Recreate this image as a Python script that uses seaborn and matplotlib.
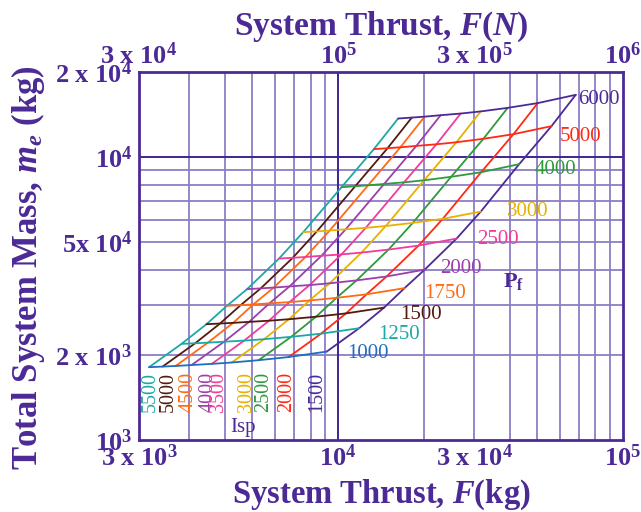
import matplotlib
matplotlib.use("Agg")
import matplotlib.pyplot as plt
from matplotlib.ticker import NullFormatter, NullLocator
import pandas as pd
import seaborn as sns

# Carpet nodes: one row per power level Pf, one column per specific impulse
isp_values = [5500, 5000, 4500, 4000, 3500, 3000, 2500, 2000, 1500]
pf_values = [1000, 1250, 1500, 1750, 2000, 2500, 3000, 4000, 5000, 6000]

thrust_kg = [
    [2170, 2420, 2690, 3060, 3600, 4230, 5260, 6710, 9120],
    [2820, 3150, 3490, 3980, 4680, 5500, 6840, 8710, 11850],
    [3450, 3850, 4280, 4870, 5720, 6720, 8360, 10660, 14500],
    [4070, 4550, 5040, 5740, 6750, 7930, 9870, 12580, 17100],
    [4790, 5350, 5940, 6750, 7940, 9340, 11610, 14800, 20130],
    [6200, 6930, 7680, 8740, 10280, 12080, 15030, 19160, 26050],
    [7540, 8420, 9340, 10630, 12500, 14700, 18280, 23300, 31680],
    [10280, 11480, 12740, 14500, 17040, 20040, 24920, 31770, 43200],
    [13350, 14910, 16540, 18820, 22130, 26020, 32360, 41250, 56100],
    [16240, 18140, 20120, 22900, 26930, 31650, 39370, 50180, 68240],
]
mass_kg = [
    [1809, 1818, 1827, 1841, 1858, 1879, 1915, 1965, 2054],
    [2187, 2198, 2209, 2226, 2246, 2272, 2316, 2376, 2484],
    [2567, 2581, 2595, 2616, 2641, 2673, 2728, 2803, 2938],
    [2981, 2998, 3016, 3042, 3073, 3113, 3181, 3274, 3442],
    [3414, 3436, 3458, 3491, 3530, 3581, 3667, 3786, 4002],
    [4379, 4407, 4436, 4480, 4531, 4598, 4712, 4868, 5154],
    [5429, 5465, 5502, 5558, 5624, 5709, 5855, 6053, 6420],
    [7832, 7891, 7950, 8040, 8147, 8285, 8520, 8845, 9444],
    [10674, 10754, 10835, 10958, 11103, 11291, 11612, 12054, 12871],
    [13694, 13800, 13906, 14068, 14261, 14510, 14936, 15525, 16608],
]

x_tick_values = [2000, 1e4, 3e4, 1e5]
x_tick_labels_kg = ["3 x 10$^3$", "10$^4$", "3 x 10$^4$", "10$^5$"]
x_tick_labels_n = ["3 x 10$^4$", "10$^5$", "3 x 10$^5$", "10$^6$"]
y_tick_values = [1000, 2000, 5000, 10000, 20000]
y_tick_labels = ["10$^3$", "2 x 10$^3$", "5x 10$^4$", "10$^4$", "2 x 10$^4$"]

# Colours
INK = "#4B2A96"
GRID = "#8E7DC6"
GRID_MAJOR = "#3E2490"
isp_colors = {5500: "#1AA9A6", 5000: "#551A0E", 4500: "#FF6A14", 4000: "#9C3FAA",
              3500: "#F03C9C", 3000: "#E8B000", 2500: "#2E9A3A", 2000: "#FF2A12",
              1500: "#4B2A96"}
pf_colors = {1000: "#1F6DBF", 1250: "#1AA9A6", 1500: "#551A0E", 1750: "#FF6A14",
             2000: "#9C3FAA", 2500: "#F03C9C", 3000: "#E8B000", 4000: "#2E9A3A",
             5000: "#FF2A12", 6000: "#4B2A96"}

rows = []
for i, pf in enumerate(pf_values):
    for j, isp in enumerate(isp_values):
        rows.append({"Pf": pf, "Isp": isp, "F": thrust_kg[i][j], "M": mass_kg[i][j],
                     "pf_order": i, "isp_order": j})
df = pd.DataFrame(rows)

sns.set_theme(style="white")
plt.rcParams["font.family"] = ["Liberation Serif", "DejaVu Serif"]
plt.rcParams["mathtext.fontset"] = "custom"
plt.rcParams["mathtext.rm"] = "Liberation Serif:bold"
plt.rcParams["mathtext.bf"] = "Liberation Serif:bold"
plt.rcParams["mathtext.it"] = "Liberation Serif:italic:bold"

fig = plt.figure(figsize=(6.41, 5.12), dpi=100)
ax = fig.add_axes([139 / 641, 72 / 512, 484 / 641, 368 / 512])
ax.set_xscale("log")
ax.set_yscale("log")
ax.set_xlim(2000, 1e5)
ax.set_ylim(1000, 2e4)

# Grid lines
for v in [3000, 4000, 5000, 6000, 7000, 8000, 9000,
          20000, 30000, 40000, 50000, 60000, 70000, 80000, 90000]:
    ax.axvline(v, color=GRID, lw=1.3, zorder=0)
for v in [2000, 3000, 4000, 5000, 6000, 7000, 8000, 9000]:
    ax.axhline(v, color=GRID, lw=1.3, zorder=0)
ax.axvline(1e4, color=GRID_MAJOR, lw=1.4, zorder=0)
ax.axhline(1e4, color=GRID_MAJOR, lw=1.4, zorder=0)

# Constant-Isp curves
sns.lineplot(data=df.sort_values(["Isp", "pf_order"]), x="F", y="M", hue="Isp",
             palette=isp_colors, sort=False, estimator=None, legend=False,
             lw=1.3, ax=ax, zorder=3)
# Constant-power curves
sns.lineplot(data=df.sort_values(["Pf", "isp_order"]), x="F", y="M", hue="Pf",
             palette=pf_colors, sort=False, estimator=None, legend=False,
             lw=1.3, ax=ax, zorder=3)

# Axes styling
for s in ax.spines.values():
    s.set_color(INK)
    s.set_linewidth(2)
ax.set_xticks(x_tick_values)
ax.set_xticklabels(x_tick_labels_kg, fontweight="bold")
ax.set_yticks(y_tick_values)
ax.set_yticklabels(y_tick_labels, fontweight="bold")
for axis in (ax.xaxis, ax.yaxis):
    axis.set_minor_locator(NullLocator())
    axis.set_minor_formatter(NullFormatter())
ax.tick_params(length=0, labelsize=19, labelcolor=INK)
ax.tick_params(axis="y", pad=5)
ax.tick_params(axis="x", pad=3)
ax.set_xlabel("System Thrust, $F$(kg)", fontsize=23.5, fontweight="bold", color=INK)
ax.xaxis.set_label_coords(0.5, -0.103)
ax.set_ylabel("Total System Mass, $m_e$ (kg)", fontsize=25, fontweight="bold", color=INK)
ax.yaxis.set_label_coords(-0.19, 0.47)

top = ax.twiny()
top.set_xscale("log")
top.set_xlim(ax.get_xlim())
top.set_xticks(x_tick_values)
top.set_xticklabels(x_tick_labels_n, fontweight="bold")
top.xaxis.set_minor_locator(NullLocator())
top.xaxis.set_minor_formatter(NullFormatter())
top.tick_params(length=0, labelsize=19, labelcolor=INK, pad=2)
top.set_xlabel("System Thrust, $F$($N$)", fontsize=24, fontweight="bold", color=INK)
top.xaxis.set_label_coords(0.5, 1.10)
for s in top.spines.values():
    s.set_visible(False)

# Isp labels along the bottom
isp_label_x = [0.0227, 0.0605, 0.1019, 0.1432, 0.1638, 0.2225, 0.2568, 0.3052, 0.3671]
for isp, xf in zip(isp_values, isp_label_x):
    ax.text(xf, 0.1304, str(isp), transform=ax.transAxes, rotation=90,
            ha="center", va="center", fontsize=14.5, color=isp_colors[isp])
ax.text(0.2149, 0.0353, "Isp", transform=ax.transAxes, ha="center", va="center",
        fontsize=15, color=INK)

# Power labels at the right ends
pf_label_pos = {6000: (0.907, 0.924), 5000: (0.870, 0.826), 4000: (0.818, 0.734),
                3000: (0.760, 0.622), 2500: (0.698, 0.546), 2000: (0.622, 0.465),
                1750: (0.589, 0.397), 1500: (0.539, 0.342), 1250: (0.494, 0.288),
                1000: (0.430, 0.234)}
for pf, (xf, yf) in pf_label_pos.items():
    ax.text(xf, yf, str(pf), transform=ax.transAxes, ha="left", va="center",
            fontsize=15, color=pf_colors[pf])
ax.text(0.752, 0.432, r"$\mathrm{P}_\mathrm{f}$", transform=ax.transAxes,
        ha="left", va="center", fontsize=16, color=INK)

fig.savefig("out.png", dpi=100)
